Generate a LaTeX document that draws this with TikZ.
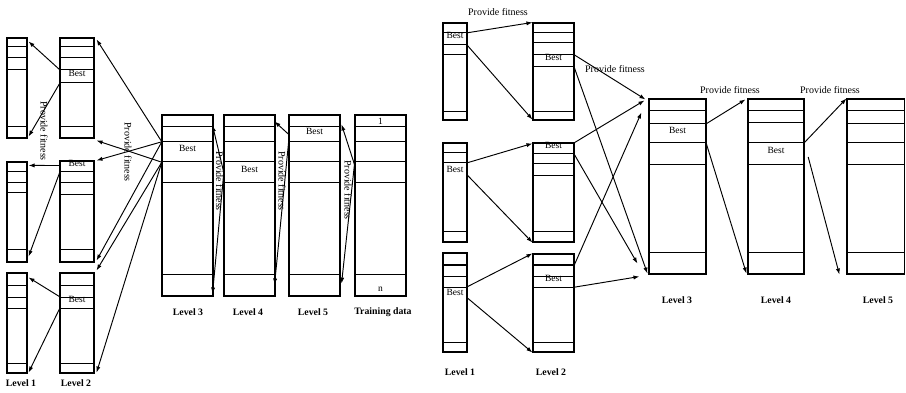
\documentclass[tikz,border=0pt]{standalone}
\usepackage{fontspec}
\setmainfont{Liberation Serif}
\usetikzlibrary{fit,calc,arrows.meta}

% A column of records: framed node plus horizontal dividers
\newcommand\stackbox[6]{% name, left, top, right, bottom, divider list
  \node[boxframe, fit={(#2,#3) (#4,#5)}] (#1) {};
  \foreach \d in {#6} \draw[divider] (#2,\d) -- (#4,\d);
}
% The cell holding the best individual of a population
\newcommand\bestcell[5]{% name, left, top, right, bottom
  \node[bestslot, fit={(#2,#3) (#4,#5)}] (#1) {Best};
}

\begin{document}
\begin{tikzpicture}[x=1pt, y=-1pt,
  boxframe/.style={draw, line width=1.1pt, inner sep=0pt},
  divider/.style={line width=1pt},
  bestslot/.style={inner sep=0pt, font=\fontsize{9.5}{10}\selectfont},
  arr/.style={line width=0.95pt, -{Latex[length=6pt,width=4.2pt]}},
  fitlabel/.style={inner sep=0pt, font=\fontsize{10}{11}\selectfont},
  levellabel/.style={inner sep=0pt, font=\fontsize{9.8}{11}\selectfont\bfseries},
  celltext/.style={inner sep=0pt, font=\fontsize{9.5}{10}\selectfont}]

\fill[white] (0,0) rectangle (906,393);
\useasboundingbox (0,0) rectangle (906,393);

%% ---------------- Left scheme ----------------
% Level 1
\stackbox{L1a}{7}{38}{27}{138}{47,58,70,127}
\stackbox{L1b}{7}{162}{27}{262}{172,183,193,250}
\stackbox{L1c}{7}{273}{27}{373}{285,297,308,363}
% Level 2
\stackbox{L2a}{60}{38}{94}{138}{47,58,70,83,127}
\bestcell{L2aB}{60}{70}{94}{83}
\stackbox{L2b}{60}{161}{94}{262}{172,183,195,250}
\bestcell{L2bB}{60}{161}{94}{172}
\stackbox{L2c}{60}{273}{94}{373}{285,297,308,363}
\bestcell{L2cB}{60}{297}{94}{308}
% Level 3, Level 4, Level 5, training data
\stackbox{L3}{162}{115}{213}{296}{127,142,162,183,274}
\bestcell{L3B}{162}{142}{213}{162}
\stackbox{L4}{224}{115}{275}{296}{127,142,162,183,274}
\bestcell{L4B}{224}{162}{275}{183}
\stackbox{L5}{289}{115}{340}{296}{127,142,162,183,274}
\bestcell{L5B}{289}{127}{340}{142}
\stackbox{TD}{355}{115}{406}{296}{127,142,162,183,274}
\node[celltext] (TDone) at (380.5,121) {1};
\node[celltext] (TDn) at (380.5,289) {n};
\coordinate (TDsrc) at ($(TD.north west)+(0,50)$);

% Level 2 -> Level 1
\draw[arr] (L2aB.north west) -- ($(L1a.north east)+(1,4)$);
\draw[arr] (L2aB.south west) -- ($(L1a.south east)+(1,-2)$);
\draw[arr] ($(L2bB.west)+(0,-1)$) -- ($(L1b.north east)+(1,4)$);
\draw[arr] (L2bB.south west) -- ($(L1b.south east)+(1,-6)$);
\draw[arr] (L2cB.north west) -- ($(L1c.north east)+(1,5)$);
\draw[arr] (L2cB.south west) -- ($(L1c.south east)+(1,-1)$);
\node[fitlabel, rotate=-90] (pf1) at (44,131) {Provide fitness};

% Level 3 -> Level 2
\draw[arr] (L3B.north west) -- ($(L2a.north east)+(2,2)$);
\draw[arr] (L3B.south west) -- ($(L2a.south east)+(2,2)$);
\draw[arr] (L3B.north west) -- ($(L2b.north east)+(2,0)$);
\draw[arr] (L3B.north west) -- ($(L2b.south east)+(2,-2)$);
\draw[arr] (L3B.south west) -- ($(L2c.north east)+(2,-2)$);
\draw[arr] (L3B.south west) -- ($(L2c.south east)+(2,-1)$);
\node[fitlabel, rotate=-90] (pf2) at (128,152) {Provide fitness};

% Level 4 -> Level 3
\draw[arr] (L4B.west) -- ($(L3.north east)+(-1,11)$);
\draw[arr] (L4B.west) -- ($(L3.south east)+(-1,-3)$);
\node[fitlabel, rotate=-90] (pf3) at (219.5,181) {Provide fitness};

% Level 5 -> Level 4
\draw[arr] (L5B.west) -- ($(L4.north east)+(-1,7)$);
\draw[arr] ($(L5B.south west)+(0,-2)$) -- ($(L4.south east)+(-1,-12)$);
\node[fitlabel, rotate=-90] (pf4) at (282,181) {Provide fitness};

% Training data -> Level 5
\draw[arr] (TDsrc) -- ($(L5.north east)+(1,10)$);
\draw[arr] (TDsrc) -- ($(L5.south east)+(1,-13)$);
\node[fitlabel, rotate=-90] (pf5) at (348,190) {Provide fitness};

% Captions
\node[levellabel] (capL1) at (21,383) {Level 1};
\node[levellabel] (capL2) at (76,383) {Level 2};
\node[levellabel] (capL3) at (188,312) {Level 3};
\node[levellabel] (capL4) at (248,312) {Level 4};
\node[levellabel] (capL5) at (313,312) {Level 5};
\node[levellabel] (capTD) at (383,312) {Training data};

%% ---------------- Right scheme ----------------
% Level 1
\stackbox{R1a}{443}{23}{467}{120}{33,45,55,112}
\bestcell{R1aB}{443}{33}{467}{45}
\stackbox{R1b}{443}{143}{467}{242}{153,163,232}
\bestcell{R1bB}{443}{164}{467}{182}
\stackbox{R1c}{443}{253}{467}{352}{265,276,287,342}
\bestcell{R1cB}{443}{287}{467}{305}
% Level 2
\stackbox{R2a}{533}{23}{574}{120}{33,43,55,67,112}
\bestcell{R2aB}{533}{55}{574}{67}
\stackbox{R2b}{533}{143}{574}{242}{154,164,176,232}
\bestcell{R2bB}{533}{143}{574}{154}
\stackbox{R2c}{533}{254}{574}{352}{265,276,287,342}
\bestcell{R2cB}{533}{276}{574}{287}
% Level 3, Level 4, Level 5
\stackbox{R3}{649}{99}{706}{274}{111,124,143,165,253}
\bestcell{R3B}{649}{124}{706}{143}
\stackbox{R4}{748}{99}{804}{274}{111,123,143,165,253}
\bestcell{R4B}{748}{143}{804}{165}
\stackbox{R5}{847}{99}{904.5}{274}{111,124,143,165,253}

% Level 1 -> Level 2
\draw[arr] (R1aB.north east) -- (R2a.north west);
\draw[arr] (R1aB.south east) -- ($(R2a.south west)+(0,-1)$);
\draw[arr] ($(R1bB.north east)+(0,-1)$) -- ($(R2b.north west)+(0,1)$);
\draw[arr] ($(R1bB.east)+(0,2)$) -- (R2b.south west);
\draw[arr] (R1cB.north east) -- (R2c.north west);
\draw[arr] ($(R1cB.north east)+(0,11)$) -- (R2c.south west);
\node[fitlabel] (pf6) at (498,12) {Provide fitness};

% Level 2 -> Level 3
\draw[arr] (R2aB.north east) -- ($(R3.north west)+(-3,1)$);
\draw[arr] (R2aB.south east) -- ($(R3.south west)+(-1,-1)$);
\draw[arr] (R2bB.north east) -- ($(R3.north west)+(-4,2)$);
\draw[arr] (R2bB.south east) -- ($(R3.south west)+(-11,-11)$);
\draw[arr] ($(R2c.north east)+(0,11)$) -- ($(R3.north west)+(-7,14)$);
\draw[arr] (R2cB.south east) -- ($(R3.south west)+(-9,2)$);
\node[fitlabel] (pf7) at (615,69) {Provide fitness};

% Level 3 -> Level 4
\draw[arr] (R3B.north east) -- ($(R4.north west)+(-2,1)$);
\draw[arr] (R3B.south east) -- ($(R4.south west)+(-1,-1)$);
\node[fitlabel] (pf8) at (730,90) {Provide fitness};

% Level 4 -> Level 5
\coordinate (R4src) at ($(R4B.east)+(4,3)$);
\draw[arr] (R4B.north east) -- (R5.north west);
\draw[arr] (R4src) -- ($(R5.south west)+(-7,0)$);
\node[fitlabel] (pf9) at (830,90) {Provide fitness};

% Captions
\node[levellabel] (capR1) at (460,372) {Level 1};
\node[levellabel] (capR2) at (551,372) {Level 2};
\node[levellabel] (capR3) at (677,300) {Level 3};
\node[levellabel] (capR4) at (776,300) {Level 4};
\node[levellabel] (capR5) at (878,300) {Level 5};
\end{tikzpicture}
\end{document}
